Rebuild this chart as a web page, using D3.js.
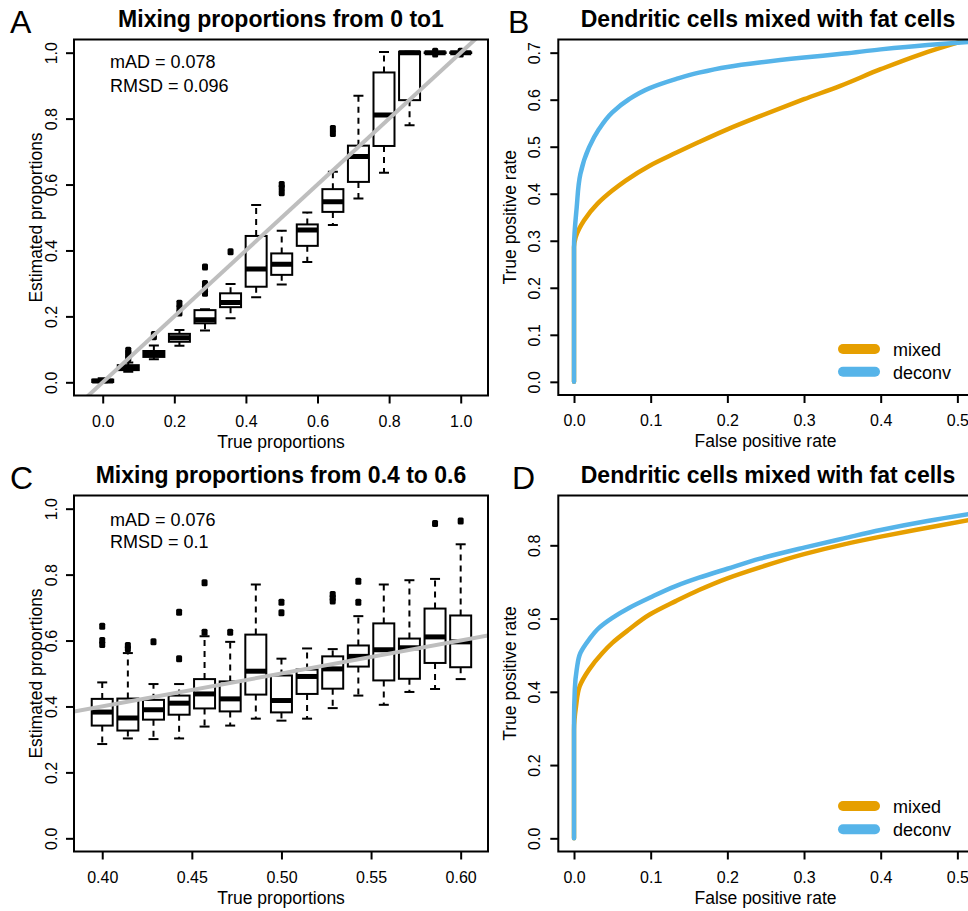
<!DOCTYPE html>
<html><head><meta charset="utf-8">
<script src="https://cdn.jsdelivr.net/npm/d3@7"></script>
<style>
body{margin:0;background:#fff}
svg{display:block}
text{font-family:'Liberation Sans',Arial,Helvetica,sans-serif;fill:#000}
</style>
</head><body>
<svg id="chart" width="968" height="911"></svg>
<script>
// ---------------- DATA ----------------
// Panel A: boxplots, true proportions 0..1
const posA = [0, 0.0714, 0.1429, 0.2143, 0.2857, 0.3571, 0.4286, 0.5, 0.5714, 0.6429, 0.7143, 0.7857, 0.8571, 0.9286, 1.0];
const loA  = [0.000, 0.032, 0.070, 0.111, 0.157, 0.194, 0.258, 0.297, 0.365, 0.477, 0.558, 0.636, 0.780, 0.998, 0.998];
const q1A  = [0.001, 0.037, 0.077, 0.123, 0.179, 0.228, 0.290, 0.326, 0.414, 0.517, 0.608, 0.717, 0.856, 0.999, 0.999];
const medA = [0.004, 0.045, 0.086, 0.135, 0.190, 0.242, 0.344, 0.358, 0.462, 0.548, 0.685, 0.811, 1.000, 1.000, 1.000];
const q3A  = [0.008, 0.052, 0.095, 0.147, 0.219, 0.270, 0.444, 0.391, 0.479, 0.586, 0.718, 0.940, 1.003, 1.001, 1.001];
const hiA  = [0.012, 0.060, 0.112, 0.159, 0.222, 0.298, 0.538, 0.460, 0.515, 0.639, 0.869, 1.002, 1.003, 1.002, 1.002];
const outA = [[], [0.072, 0.080, 0.090, 0.097], [0.138, 0.145], [0.210, 0.225, 0.240], [0.270, 0.285, 0.300, 0.350],
              [0.396], [], [0.575, 0.590, 0.600], [], [0.755, 0.770], [], [], [], [0.996, 1.004], [0.996, 1.004]];
const statsA = ["mAD = 0.078", "RMSD = 0.096"];

// Panel C: boxplots, true proportions 0.4..0.6
const posC = [0.4, 0.4143, 0.4286, 0.4429, 0.4571, 0.4714, 0.4857, 0.5, 0.5143, 0.5286, 0.5429, 0.5571, 0.5714, 0.5857, 0.6];
const loC  = [0.286, 0.303, 0.301, 0.303, 0.339, 0.342, 0.363, 0.357, 0.363, 0.395, 0.433, 0.405, 0.444, 0.453, 0.483];
const q1C  = [0.342, 0.327, 0.360, 0.375, 0.394, 0.385, 0.436, 0.382, 0.438, 0.454, 0.521, 0.479, 0.484, 0.532, 0.519];
const medC = [0.383, 0.365, 0.390, 0.410, 0.438, 0.423, 0.507, 0.418, 0.491, 0.514, 0.552, 0.572, 0.578, 0.611, 0.596];
const q3C  = [0.423, 0.424, 0.420, 0.433, 0.483, 0.476, 0.618, 0.494, 0.512, 0.552, 0.585, 0.652, 0.606, 0.697, 0.676];
const hiC  = [0.473, 0.562, 0.468, 0.468, 0.613, 0.596, 0.770, 0.545, 0.576, 0.574, 0.674, 0.770, 0.783, 0.787, 0.892];
const outC = [[0.588, 0.600, 0.643], [0.575, 0.585], [0.596], [0.545, 0.686], [0.625, 0.775], [0.625], [],
              [0.684, 0.716], [], [0.720, 0.730, 0.740], [0.716, 0.780], [], [], [0.955], [0.9625]];
const statsC = ["mAD = 0.076", "RMSD = 0.1"];

// Panel B: ROC curves [FPR, TPR]
const rocBMixed = [[0,0],[0,0.286],[0.0022,0.3076],[0.013,0.343],[0.0304,0.3784],[0.05,0.4067],[0.0674,0.428],[0.0987,0.4597],
  [0.133,0.487],[0.163,0.51],[0.2,0.537],[0.2426,0.565],[0.3,0.601],[0.3474,0.6294],[0.4,0.6648],[0.4522,0.6966],[0.5,0.7213],[0.52,0.731]];
const rocBDeconv = [[0,0],[0,0.286],[0.0035,0.371],[0.0083,0.442],[0.0196,0.4985],[0.0326,0.5375],[0.05,0.573],[0.0717,0.601],
  [0.0987,0.6245],[0.1326,0.6436],[0.163,0.6576],[0.2,0.6697],[0.242,0.679],[0.3,0.6895],[0.352,0.698],[0.4,0.707],[0.461,0.7164],[0.52,0.7235]];
// Panel D: ROC curves [FPR, TPR]
const rocDMixed = [[0,0],[0,0.296],[0.0026,0.36],[0.0074,0.415],[0.0196,0.4606],[0.037,0.506],[0.05,0.5336],[0.0717,0.57],
  [0.0987,0.611],[0.1326,0.6476],[0.163,0.678],[0.2,0.71],[0.2426,0.74],[0.3,0.776],[0.352,0.8027],[0.4,0.8237],[0.461,0.848],[0.52,0.871]];
const rocDDeconv = [[0,0],[0,0.315],[0.001,0.406],[0.0035,0.4606],[0.0083,0.506],[0.0196,0.5427],[0.0326,0.5747],[0.05,0.602],
  [0.0717,0.629],[0.0987,0.6568],[0.1326,0.6886],[0.163,0.7115],[0.2,0.736],[0.2426,0.7635],[0.3,0.7936],[0.352,0.819],[0.4,0.842],[0.461,0.8665],[0.52,0.887]];

const ticksA_x = [0, 0.2, 0.4, 0.6, 0.8, 1.0];
const ticksA_y = [0, 0.2, 0.4, 0.6, 0.8, 1.0];
const ticksC_x = [0.40, 0.45, 0.50, 0.55, 0.60];
const ticksC_y = [0, 0.2, 0.4, 0.6, 0.8, 1.0];
const ticksB_x = [0, 0.1, 0.2, 0.3, 0.4, 0.5];
const ticksB_y = [0, 0.1, 0.2, 0.3, 0.4, 0.5, 0.6, 0.7];
const ticksD_x = [0, 0.1, 0.2, 0.3, 0.4, 0.5];
const ticksD_y = [0, 0.2, 0.4, 0.6, 0.8];

const seriesNames = ["mixed", "deconv"];
const seriesColors = ["#E69F00", "#56B4E9"];
const titles = ["Mixing proportions from 0 to1", "Dendritic cells mixed with fat cells",
                "Mixing proportions from 0.4 to 0.6", "Dendritic cells mixed with fat cells"];
const letters = ["A", "B", "C", "D"];

// ---------------- DRAW ----------------
const svg = d3.select("#chart");
svg.append("rect").attr("width", 968).attr("height", 911).attr("fill", "#fff");
const defs = svg.append("defs");

function frame(id, x, y, xt, yt, fmtX, fmtY, xTitle, yTitle, yTitleX, yLabX) {
  const [x0, x1] = x.range(), [y0, y1] = y.range(); // y0 bottom
  defs.append("clipPath").attr("id", id).append("rect")
    .attr("x", x0).attr("y", y1).attr("width", x1 - x0).attr("height", y0 - y1);
  const g = svg.append("g");
  const ax = g.append("g").attr("transform", `translate(0,${y0})`)
    .call(d3.axisBottom(x).tickValues(xt).tickSize(8).tickSizeOuter(0).tickFormat(d3.format(fmtX)));
  ax.select(".domain").remove();
  ax.selectAll("line").attr("stroke", "#000").attr("stroke-width", 2);
  ax.selectAll("text").attr("y", 31).attr("dy", 0).attr("font-size", 16).attr("fill", "#000");
  const ay = g.append("g").attr("transform", `translate(${x0},0)`)
    .call(d3.axisLeft(y).tickValues(yt).tickSize(8).tickSizeOuter(0).tickFormat(d3.format(fmtY)));
  ay.select(".domain").remove();
  ay.selectAll("line").attr("stroke", "#000").attr("stroke-width", 2);
  ay.selectAll("text").attr("transform", "rotate(-90)").attr("x", 0).attr("y", -yLabX).attr("dy", 0)
    .attr("text-anchor", "middle").attr("font-size", 16).attr("fill", "#000");
  ax.attr("font-family", null); ay.attr("font-family", null);
  g.append("text").attr("x", (x0 + x1) / 2).attr("y", y0 + 52).attr("text-anchor", "middle")
    .attr("font-size", 17.5).text(xTitle);
  g.append("text").attr("transform", `translate(${yTitleX},${(y0 + y1) / 2}) rotate(-90)`)
    .attr("text-anchor", "middle").attr("font-size", 17.5).text(yTitle);
  return g;
}

function border(x, y) {
  const [x0, x1] = x.range(), [y0, y1] = y.range();
  svg.append("rect").attr("x", x0).attr("y", y1).attr("width", x1 - x0).attr("height", y0 - y1)
    .attr("fill", "none").attr("stroke", "#000").attr("stroke-width", 2);
}

function boxPanel(id, x, y, pos, lo, q1, med, q3, hi, out, stats, statY) {
  const plot = svg.append("g").attr("clip-path", `url(#${id})`);
  const hw = 10.5, cw = 5;
  pos.forEach((p, i) => {
    const cx = x(p);
    const gb = plot.append("g");
    gb.append("line").attr("x1", cx).attr("x2", cx).attr("y1", y(q3[i])).attr("y2", y(hi[i]))
      .attr("stroke", "#000").attr("stroke-width", 2).attr("stroke-dasharray", "6,5");
    gb.append("line").attr("x1", cx).attr("x2", cx).attr("y1", y(q1[i])).attr("y2", y(lo[i]))
      .attr("stroke", "#000").attr("stroke-width", 2).attr("stroke-dasharray", "6,5");
    [hi[i], lo[i]].forEach(v => gb.append("line").attr("x1", cx - cw).attr("x2", cx + cw)
      .attr("y1", y(v)).attr("y2", y(v)).attr("stroke", "#000").attr("stroke-width", 2));
    gb.append("rect").attr("x", cx - hw).attr("width", 2 * hw)
      .attr("y", y(q3[i])).attr("height", Math.max(0.5, y(q1[i]) - y(q3[i])))
      .attr("fill", "#fff").attr("stroke", "#000").attr("stroke-width", 2);
    gb.append("line").attr("x1", cx - hw).attr("x2", cx + hw).attr("y1", y(med[i])).attr("y2", y(med[i]))
      .attr("stroke", "#000").attr("stroke-width", 5);
    out[i].forEach(v => gb.append("rect").attr("x", cx - 3).attr("y", y(v) - 3.5)
      .attr("width", 6).attr("height", 7).attr("rx", 1.5).attr("fill", "#000"));
  });
  const d = x.domain();
  plot.append("line").attr("x1", x(d[0])).attr("y1", y(d[0])).attr("x2", x(d[1])).attr("y2", y(d[1]))
    .attr("stroke", "#BEBEBE").attr("stroke-width", 4);
  stats.forEach((s, i) => svg.append("text").attr("x", 110).attr("y", statY[i]).attr("font-size", 18).text(s));
}

function rocPanel(id, x, y, mixed, deconv, legY) {
  const plot = svg.append("g").attr("clip-path", `url(#${id})`);
  const line = d3.line().x(d => x(d[0])).y(d => y(d[1])).curve(d3.curveMonotoneY);
  [mixed, deconv].forEach((s, i) => plot.append("path").attr("d", line(s)).attr("fill", "none")
    .attr("stroke", seriesColors[i]).attr("stroke-width", 4.5).attr("stroke-linecap", "round").attr("stroke-linejoin", "round"));
  seriesNames.forEach((n, i) => {
    svg.append("line").attr("x1", 843).attr("x2", 875).attr("y1", legY[i]).attr("y2", legY[i])
      .attr("stroke", seriesColors[i]).attr("stroke-width", 10).attr("stroke-linecap", "round");
    svg.append("text").attr("x", 893).attr("y", legY[i] + 6.8).attr("font-size", 18).text(n);
  });
}

const xA = d3.scaleLinear().domain([-0.0802, 1.0762]).range([74, 488]);
const yA = d3.scaleLinear().domain([-0.04, 1.04]).range([395.5, 39.5]);
const xC = d3.scaleLinear().domain([0.38425, 0.61525]).range([74, 488]);
const yC = d3.scaleLinear().domain([-0.04, 1.04]).range([851.5, 495.5]);
const xB = d3.scaleLinear().domain([-0.0205, 0.52]).range([558.3, 972.7]);
const yB = d3.scaleLinear().domain([-0.028, 0.728]).range([395, 39.5]);
const xD = d3.scaleLinear().domain([-0.0205, 0.52]).range([558.3, 972.7]);
const yD = d3.scaleLinear().domain([-0.036, 0.936]).range([851.5, 495.5]);

frame("clipA", xA, yA, ticksA_x, ticksA_y, ".1f", ".1f", "True proportions", "Estimated proportions", 41.5, 17.3);
boxPanel("clipA", xA, yA, posA, loA, q1A, medA, q3A, hiA, outA, statsA, [68.3, 91.7]);
border(xA, yA);

frame("clipC", xC, yC, ticksC_x, ticksC_y, ".2f", ".1f", "True proportions", "Estimated proportions", 41.5, 17.3);
boxPanel("clipC", xC, yC, posC, loC, q1C, medC, q3C, hiC, outC, statsC, [525.7, 548.3]);
border(xC, yC);

frame("clipB", xB, yB, ticksB_x, ticksB_y, ".1f", ".1f", "False positive rate", "True positive rate", 515.5, 18.3);
rocPanel("clipB", xB, yB, rocBMixed, rocBDeconv, [349, 371.7]);
border(xB, yB);

frame("clipD", xD, yD, ticksD_x, ticksD_y, ".1f", ".1f", "False positive rate", "True positive rate", 515.5, 18.3);
rocPanel("clipD", xD, yD, rocDMixed, rocDDeconv, [806, 829.3]);
border(xD, yD);

const titleX = [281, 768, 281, 768], titleY = [27, 27, 483, 483];
titles.forEach((t, i) => svg.append("text").attr("x", titleX[i]).attr("y", titleY[i]).attr("text-anchor", "middle")
  .attr("font-size", 23).attr("font-weight", "bold").text(t));
const letX = [10, 508, 10, 512], letY = [33, 33, 489, 489];
letters.forEach((l, i) => svg.append("text").attr("x", letX[i]).attr("y", letY[i]).attr("font-size", 32)
  .attr("font-weight", 300).text(l));
</script>
</body></html>
